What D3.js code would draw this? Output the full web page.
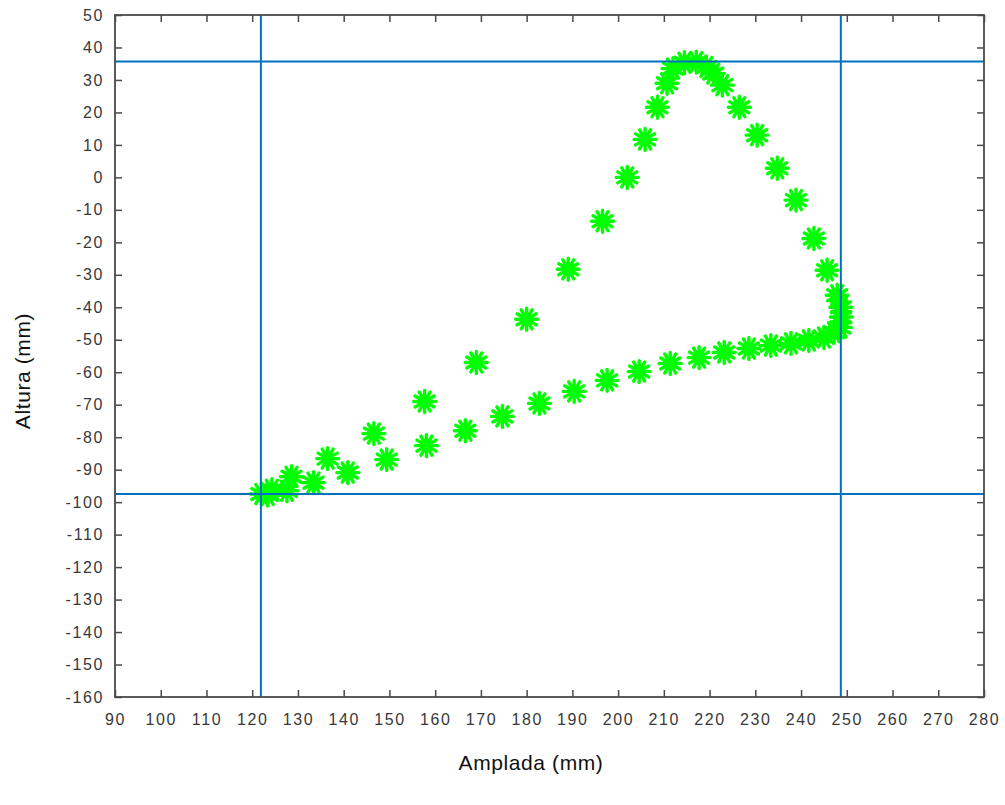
<!DOCTYPE html>
<html>
<head>
<meta charset="utf-8">
<script src="https://cdn.jsdelivr.net/npm/d3@7"></script>
<style>
  body { margin: 0; background: #fff; }
  svg { display: block; }
  .tick text { font-family: "Liberation Sans", Arial, sans-serif; font-size: 16px; letter-spacing: 1.6px; fill: #383838; }
  .lbl { font-family: "Liberation Sans", Arial, sans-serif; font-size: 21px; letter-spacing: 0.6px; fill: #111; }
</style>
</head>
<body>
<script>
// trajectory of the foot: width (x) and height (y), in mm
var amplada = [122.0, 124.3, 128.6, 136.5, 146.6, 157.7, 169.0, 180.0, 189.1, 196.6,
  202.0, 205.9, 208.6, 210.7, 212.0, 214.5, 217.1, 219.3, 220.8, 222.8, 226.5, 230.4,
  234.8, 238.9, 242.8, 245.7, 247.9, 248.7, 248.8, 248.6, 247.2, 245.0, 241.7, 237.8,
  233.4, 228.6, 223.2, 217.7, 211.4, 204.6, 197.6, 190.4, 182.8, 174.7, 166.6,
  158.1, 149.4, 140.9, 133.4, 127.6, 123.4];
var altura = [-97.5, -96.2, -92.2, -86.6, -78.9, -69.0, -57.0, -43.7, -28.3, -13.5,
  0.0, 11.7, 21.6, 29.0, 33.5, 35.3, 35.5, 34.0, 32.0, 28.4, 21.6, 13.0,
  2.8, -7.0, -18.8, -28.6, -36.3, -40.0, -43.0, -46.2, -47.7, -49.3, -50.2, -51.1,
  -51.8, -52.7, -53.9, -55.5, -57.3, -59.8, -62.5, -65.9, -69.6, -73.6, -78.0,
  -82.6, -86.9, -90.9, -94.0, -96.5, -97.8];

// limit lines
var limitsX = [121.9, 248.7];
var limitsY = [35.7, -97.5];

var xTicks = d3.range(90, 281, 10);
var yTicks = d3.range(-160, 51, 10);

var W = 1005, H = 805;
var margin = {top: 15, right: 21, bottom: 108, left: 115};
var w = W - margin.left - margin.right;
var h = H - margin.top - margin.bottom;

var svg = d3.select("body").append("svg").attr("width", W).attr("height", H);
var g = svg.append("g").attr("transform", "translate(" + margin.left + "," + margin.top + ")");

var x = d3.scaleLinear().domain([90, 280]).range([0, w]);
var y = d3.scaleLinear().domain([-160, 50]).range([h, 0]);

// markers (asterisk with 12 spokes)
var r = 11;
function star() {
  var p = d3.path();
  for (var i = 0; i < 6; i++) {
    var a = i * Math.PI / 6;
    p.moveTo(-r * Math.cos(a), -r * Math.sin(a));
    p.lineTo(r * Math.cos(a), r * Math.sin(a));
  }
  return p.toString();
}
var pts = amplada.map(function(d, i) { return [d, altura[i]]; });
var mk = g.selectAll(".mk").data(pts).enter().append("g")
  .attr("class", "mk")
  .attr("transform", function(d) { return "translate(" + x(d[0]) + "," + y(d[1]) + ")"; });
mk.append("path").attr("d", star())
  .style("stroke", "#00ff00").style("stroke-width", 3.4).style("stroke-linecap", "round").style("fill", "none");
mk.append("circle").attr("r", 5).style("fill", "#00ff00");

// limit lines
g.selectAll(".vl").data(limitsX).enter().append("line")
  .attr("x1", function(d) { return x(d); }).attr("x2", function(d) { return x(d); })
  .attr("y1", 0).attr("y2", h)
  .style("stroke", "#0072bd").style("stroke-width", 2);
g.selectAll(".hl").data(limitsY).enter().append("line")
  .attr("y1", function(d) { return y(d); }).attr("y2", function(d) { return y(d); })
  .attr("x1", 0).attr("x2", w)
  .style("stroke", "#0072bd").style("stroke-width", 2);

// axes, ticks pointing inward
var tl = 7;
var fmt = function(d) { return String(d); };
var ax = g.append("g").attr("transform", "translate(0," + h + ")")
  .call(d3.axisBottom(x).tickValues(xTicks).tickSize(-tl).tickPadding(17).tickFormat(fmt));
var ay = g.append("g")
  .call(d3.axisLeft(y).tickValues(yTicks).tickSize(-tl).tickPadding(11).tickFormat(fmt));
var axT = g.append("g").call(d3.axisTop(x).tickValues(xTicks).tickSize(-tl).tickFormat(""));
var ayR = g.append("g").attr("transform", "translate(" + w + ",0)")
  .call(d3.axisRight(y).tickValues(yTicks).tickSize(-tl).tickFormat(""));
[ax, ay, axT, ayR].forEach(function(a) {
  a.select(".domain").remove();
  a.selectAll(".tick line").style("stroke", "#4a4a4a").style("stroke-width", 1.5);
});
ax.selectAll(".tick text").attr("dy", "0.71em");

g.append("rect").attr("width", w).attr("height", h)
  .style("fill", "none").style("stroke", "#4a4a4a").style("stroke-width", 1.8);

svg.append("text").attr("class", "lbl")
  .attr("x", 531).attr("y", 770).attr("text-anchor", "middle")
  .text("Amplada (mm)");
svg.append("text").attr("class", "lbl")
  .attr("transform", "translate(30,371) rotate(-90)").attr("text-anchor", "middle")
  .text("Altura (mm)");
</script>
</body>
</html>
